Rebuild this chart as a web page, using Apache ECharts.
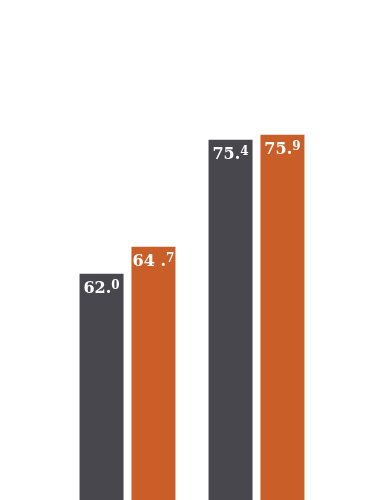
<!DOCTYPE html>
<html>
<head>
<meta charset="utf-8">
<script src="https://cdn.jsdelivr.net/npm/echarts@6/dist/echarts.min.js"></script>
<style>html,body{margin:0;padding:0;background:#fff;}#c{width:371px;height:500px;}</style>
</head>
<body>
<div id="c"></div>
<script>
var categories = ['Group 1', 'Group 2'];
var darkValues = [62.0, 75.4];
var orangeValues = [64.7, 75.9];
var darkLabels = ['62.0', '75.4'];
var orangeLabels = ['64 .7', '75.9'];

function fmt(labels) {
  return function (p) {
    var t = labels[p.dataIndex];
    var i = t.lastIndexOf('.');
    return '{m|' + t.slice(0, i + 1) + '}{s|' + t.slice(i + 1) + '}';
  };
}
var rich = {
  m: { fontFamily: 'DejaVu Serif', fontWeight: 'bold', fontSize: 16, color: '#fff', lineHeight: 22, verticalAlign: 'middle' },
  s: { fontFamily: 'DejaVu Serif', fontWeight: 'bold', fontSize: 12, color: '#fff', lineHeight: 22, verticalAlign: 'top', padding: [2, 0, 0, 0] }
};
var chart = echarts.init(document.getElementById('c'), null, { renderer: 'canvas' });
chart.setOption({
  animation: false,
  grid: { left: 63, width: 258, top: 40, bottom: 0 },
  xAxis: { type: 'category', data: categories, show: false },
  yAxis: { type: 'value', min: 39.37, max: 85.37, show: false },
  series: [
    {
      type: 'bar', data: darkValues, barWidth: 44, barGap: '18%',
      itemStyle: { color: '#48474e' },
      label: { show: true, position: 'insideTop', distance: 4, formatter: fmt(darkLabels), rich: rich }
    },
    {
      type: 'bar', data: orangeValues, barWidth: 44,
      itemStyle: { color: '#ca5e28' },
      label: { show: true, position: 'insideTop', distance: 4, formatter: fmt(orangeLabels), rich: rich }
    }
  ]
});
</script>
</body>
</html>
